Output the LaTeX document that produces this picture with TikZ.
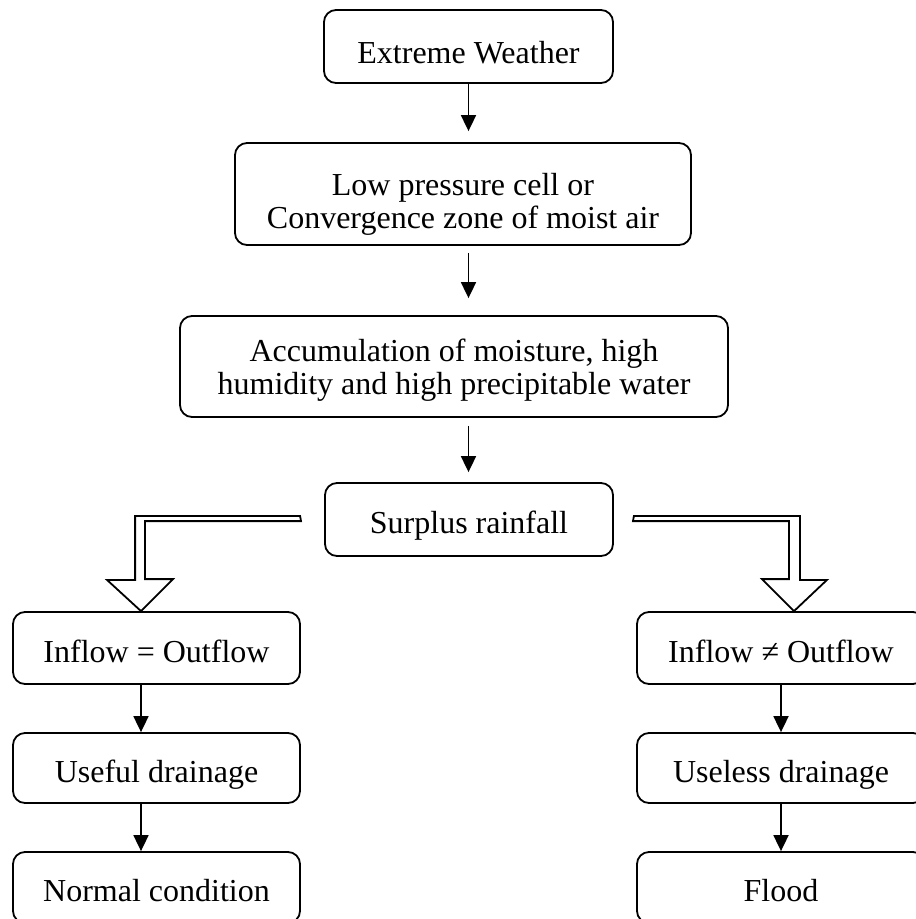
\documentclass[tikz,border=0pt]{standalone}
\usepackage{fontspec}
\setmainfont{Liberation Serif}
\usetikzlibrary{arrows.meta,calc}
\tikzset{
    flow box/.style = {
        draw,
        line width=1.8pt,
        rounded corners=12pt,
        align=center,
        inner sep=0pt,
        font=\fontsize{32}{33}\selectfont,
        },
    one line/.style = {
        text height=28pt,
        text depth=0pt,
        },
    flow arrow/.style = {
        line width=1.8pt,
        -{Triangle[length=16pt,width=15pt]},
        },
    hollow arrow/.style = {
        draw,
        line width=1.8pt,
        fill=white,
        line join=miter,
        },
}

\begin{document}
\begin{tikzpicture}[x=1pt,y=-1pt]
            \useasboundingbox (0,0) rectangle (916,919);
            \clip (0,0) rectangle (916,919);

            \node[flow box, one line, text height=34pt, minimum width=289pt, minimum height=73pt] (weather) at (468.5,46.5) {Extreme Weather};
            \node[flow box, minimum width=456pt, minimum height=102pt] (lowp) at (463,194) {\rule{0pt}{43pt}Low pressure cell or\\Convergence zone of moist air};
            \node[flow box, minimum width=548pt, minimum height=101pt] (accum) at (454,366.5) {\rule{0pt}{29pt}Accumulation of moisture, high\\humidity and high precipitable water};
            \node[flow box, one line, text height=27pt, minimum width=288pt, minimum height=73pt] (surplus) at (469,519.5) {Surplus rainfall};

            \node[flow box, one line, minimum width=287pt, minimum height=72pt] (in1) at (156.5,648) {Inflow = Outflow};
            \node[flow box, one line, minimum width=287pt, minimum height=70pt] (use1) at (156.5,768) {Useful drainage};
            \node[flow box, one line, minimum width=287pt, minimum height=71pt] (norm) at (156.5,887.5) {Normal condition};

            \node[flow box, one line, minimum width=288pt, minimum height=72pt] (in2) at (781,648) {Inflow ≠ Outflow};
            \node[flow box, one line, minimum width=288pt, minimum height=70pt] (use2) at (781,768) {Useless drainage};
            \node[flow box, one line, minimum width=288pt, minimum height=71pt] (flood) at (781,887.5) {Flood};

            \draw[flow arrow, shorten >=11pt] (weather.south) -- (lowp.north -| weather.south);
            \draw[flow arrow, shorten <=7pt, shorten >=17pt] (lowp.south -| weather.south) -- (accum.north -| weather.south);
            \draw[flow arrow, shorten <=8pt, shorten >=10pt] (accum.south -| weather.south) -- (surplus.north -| weather.south);

            % big hollow arrows out of the surplus box
            \coordinate (lstart) at ([shift={(-24,-3.5)}]surplus.west);
            \coordinate (ltip) at ([xshift=-15.5pt]in1.north);
            \coordinate (rstart) at ([shift={(20,-3.5)}]surplus.east);
            \coordinate (rtip) at ([xshift=13pt]in2.north);
            \path[hollow arrow] (lstart) -- ++(-165,0) -- ++(0,64) -- ++(-28,0) -- (ltip)
                -- ++(32,-32) -- ++(-28,0) -- ++(0,-58) -- ++(156,0) -- cycle;
            \path[hollow arrow] (rstart) -- ++(166,0) -- ++(0,64) -- ++(27,0) -- (rtip)
                -- ++(-32,-32) -- ++(27,0) -- ++(0,-58) -- ++(-156,0) -- cycle;

            \draw[flow arrow] (in1.south -| ltip) -- (use1.north -| ltip);
            \draw[flow arrow] (use1.south -| ltip) -- (norm.north -| ltip);
            \draw[flow arrow] (in2.south) -- (use2.north);
            \draw[flow arrow] (use2.south) -- (flood.north);
        \end{tikzpicture}
\end{document}
